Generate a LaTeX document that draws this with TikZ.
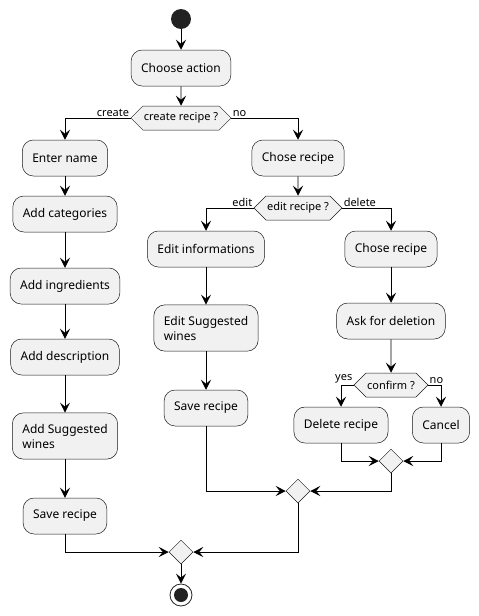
\documentclass[tikz,border=0pt]{standalone}
\usepackage{fontspec}
\setmainfont{Noto Sans}
\usetikzlibrary{positioning,arrows.meta,shapes.geometric,shapes.symbols}

\definecolor{actfill}{HTML}{F1F1F1}
\definecolor{actline}{HTML}{181818}
\definecolor{dotfill}{HTML}{222222}

\tikzset{
	action/.style={rectangle,rounded corners=11pt,draw=actline,line width=0.5pt,fill=actfill,
		minimum height=36pt,inner xsep=10pt,inner ysep=11pt,align=left},
	branch/.style={signal,signal to=west and east,draw=actline,line width=0.5pt,fill=actfill,
		minimum height=24pt,inner xsep=1pt,font=\fontsize{11}{13}\selectfont},
	merge/.style={diamond,draw=actline,line width=0.5pt,fill=actfill,minimum size=24pt,inner sep=0pt},
	initnode/.style={circle,fill=dotfill,minimum size=20pt,inner sep=0pt},
	finish/.style={circle,draw=dotfill,line width=0.8pt,fill=white,minimum size=22pt,inner sep=0pt,
		path picture={\fill[dotfill] (path picture bounding box.center) circle (7pt);}},
	guard/.style={inner sep=1pt,font=\fontsize{11}{13}\selectfont},
	hv/.style={to path={-| (\tikztotarget) \tikztonodes}},
	vh/.style={to path={|- (\tikztotarget) \tikztonodes}}
}

\begin{document}
\begin{tikzpicture}[x=1pt,y=1pt,node distance=50pt,on grid,line width=0.9pt,
	>={Stealth[length=10pt,width=10pt,inset=4pt]},font=\fontsize{12}{15}\selectfont]
		\useasboundingbox (0,0) rectangle (479,-616);
		\node[initnode] (Start) at (181,-19) {};
		\node[action] (Choose) [below=49pt of Start] {Choose action};
		\node[branch] (CreateQ) [below=of Choose] {create recipe ?};
		
		% create branch
		\node[action] (EnterName) [below left=40pt and 116pt of CreateQ] {Enter name};
		\node[action] (Categories) [below=56pt of EnterName] {Add categories};
		\node[action] (Ingredients) [below=72pt of Categories] {Add ingredients};
		\node[action] (Description) [below=71pt of Ingredients] {Add description};
		\node[action] (AddWines) [below=79pt of Description] {Add Suggested\\wines};
		\node[action] (SaveNew) [below=80pt of AddWines] {Save recipe};
		
		% edit / delete branch
		\node[action] (ChoseEdit) [below right=40pt and 117pt of CreateQ] {Chose recipe};
		\node[branch] (EditQ) [below=of ChoseEdit] {edit recipe ?};
		\node[action] (EditInfo) [below left=41pt and 92pt of EditQ] {Edit informations};
		\node[action] (EditWines) [below=79pt of EditInfo] {Edit Suggested\\wines};
		\node[action] (SaveEdit) [below=80pt of EditWines] {Save recipe};
		\node[action] (ChoseDel) [below right=41pt and 93pt of EditQ] {Chose recipe};
		\node[action] (AskDel) [below=72pt of ChoseDel] {Ask for deletion};
		\node[branch] (ConfirmQ) [below=64pt of AskDel] {confirm ?};
		\node[action] (Delete) [below left=40pt and 50pt of ConfirmQ] {Delete recipe};
		\node[action] (Cancel) [below right=40pt and 50pt of ConfirmQ] {Cancel};
		
		% merges
		\node[merge] (MergeDel) [below right=36pt and 50pt of Delete] {};
		\node[merge] (MergeEdit) [below left=30pt and 93pt of MergeDel] {};
		\node[merge] (MergeAll) [below=61pt of MergeEdit, xshift=-117pt] {};
		\node[finish] (Stop) [below=43pt of MergeAll] {};
		
		\path[->]
		(Start) edge (Choose)
		(Choose) edge (CreateQ)
		(CreateQ.west) edge[hv] node[at start,anchor=south east,guard] {create} (EnterName)
		(CreateQ.east) edge[hv] node[at start,anchor=south west,guard] {no} (ChoseEdit)
		(EnterName) edge (Categories)
		(Categories) edge (Ingredients)
		(Ingredients) edge (Description)
		(Description) edge (AddWines)
		(AddWines) edge (SaveNew)
		(ChoseEdit) edge (EditQ)
		(EditQ.west) edge[hv] node[at start,anchor=south east,guard] {edit} (EditInfo)
		(EditQ.east) edge[hv] node[at start,anchor=south west,guard] {delete} (ChoseDel)
		(EditInfo) edge (EditWines)
		(EditWines) edge (SaveEdit)
		(ChoseDel) edge (AskDel)
		(AskDel) edge (ConfirmQ)
		(ConfirmQ.west) edge[hv] node[at start,anchor=south east,guard] {yes} (Delete)
		(ConfirmQ.east) edge[hv] node[at start,anchor=south west,guard] {no} (Cancel)
		(Delete) edge[vh] (MergeDel)
		(Cancel) edge[vh] (MergeDel)
		(MergeDel) edge[vh] (MergeEdit)
		(SaveEdit) edge[vh] (MergeEdit)
		(MergeEdit) edge[vh] (MergeAll)
		(SaveNew) edge[vh] (MergeAll)
		(MergeAll) edge (Stop);
		
\end{tikzpicture}
\end{document}
